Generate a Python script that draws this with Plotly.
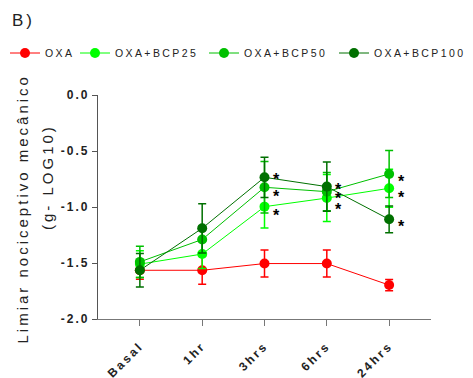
import plotly.graph_objects as go

# Time points and group means (log10 g) with SEM
timepoints = ["Basal", "1hr", "3hrs", "6hrs", "24hrs"]

series_names = ["OXA", "OXA+BCP25", "OXA+BCP50", "OXA+BCP100"]
series_colors = ["#ff0000", "#00ff00", "#00c000", "#007000"]

oxa_mean = [-1.565, -1.565, -1.505, -1.505, -1.697]
oxa_sem = [0.08, 0.125, 0.12, 0.12, 0.05]

bcp25_mean = [-1.51, -1.42, -0.997, -0.92, -0.833]
bcp25_sem = [0.12, 0.13, 0.19, 0.21, 0.17]

bcp50_mean = [-1.49, -1.29, -0.824, -0.863, -0.705]
bcp50_sem = [0.14, 0.12, 0.23, 0.17, 0.21]

bcp100_mean = [-1.565, -1.19, -0.735, -0.818, -1.11]
bcp100_sem = [0.15, 0.22, 0.18, 0.22, 0.12]

y_tickvals = [0.0, -0.5, -1.0, -1.5, -2.0]
y_ticktext = ["0.0", "-0.5", "-1.0", "-1.5", "-2.0"]

# significance marks: (series index, time point index, vertical nudge in px)
sig_marks = [
    (3, 2, 2), (2, 2, -5), (1, 2, -5),
    (3, 3, 1), (2, 3, -3), (1, 3, -7),
    (2, 4, -4), (1, 4, -5), (3, 4, -3),
]

means = [oxa_mean, bcp25_mean, bcp50_mean, bcp100_mean]
sems = [oxa_sem, bcp25_sem, bcp50_sem, bcp100_sem]

FONT = "Arial, 'Liberation Sans', sans-serif"
W, H = 473, 378
L, R, T, B = 98, 42, 95, 59
PW, PH = W - L - R, H - T - B

def px_to_paper_x(px):
    return (px - L) / PW

def px_to_paper_y(py):
    return (H - B - py) / PH

fig = go.Figure()
legend_ids = ["legend", "legend2", "legend3", "legend4"]
for i in range(4):
    fig.add_trace(go.Scatter(
        x=timepoints, y=means[i], name=series_names[i],
        mode="lines+markers",
        line=dict(color=series_colors[i], width=1),
        marker=dict(color=series_colors[i], size=10),
        error_y=dict(type="data", array=sems[i], color=series_colors[i],
                     thickness=1.5, width=4),
        legend=legend_ids[i], showlegend=True,
    ))

# asterisks beside the significant points
annotations = []
for s, t, dy in sig_marks:
    annotations.append(dict(
        x=timepoints[t], y=means[s][t], xref="x", yref="y",
        text="*", showarrow=False, xshift=12, yshift=dy - 4,
        xanchor="center", yanchor="middle",
        font=dict(family=FONT, size=16, color="black", weight="bold"),
    ))

# two-line y-axis title
annotations.append(dict(
    x=px_to_paper_x(22), y=px_to_paper_y(209), xref="paper", yref="paper",
    text="Limiar nociceptivo mecânico", textangle=-90, showarrow=False,
    xanchor="center", yanchor="middle",
    font=dict(family=FONT, size=15, color="#222"),
))
annotations.append(dict(
    x=px_to_paper_x(47), y=px_to_paper_y(177), xref="paper", yref="paper",
    text="(g- LOG10)", textangle=-90, showarrow=False,
    xanchor="center", yanchor="middle",
    font=dict(family=FONT, size=15, color="#222"),
))

legend_marker_px = [28, 98, 227, 357]
legend_entry_px = [66, 124, 124, 110]
legend_layout = {}
for lid, mx, ew in zip(legend_ids, legend_marker_px, legend_entry_px):
    legend_layout[lid] = dict(
        x=px_to_paper_x(mx - 23), y=px_to_paper_y(53),
        xanchor="left", yanchor="middle", orientation="h",
        bgcolor="rgba(0,0,0,0)", borderwidth=0, itemwidth=30,
        entrywidth=ew, entrywidthmode="pixels",
        font=dict(family=FONT, size=10.5, color="#222"),
        visible=True,
    )

fig.update_layout(
    width=W, height=H,
    margin=dict(l=L, r=R, t=T, b=B, pad=0, autoexpand=False),
    paper_bgcolor="white", plot_bgcolor="white",
    showlegend=True,
    title=dict(text="B)", xref="container", yref="container",
               x=12 / W, y=1 - 20 / H, xanchor="left", yanchor="middle",
               font=dict(family=FONT, size=17, color="#222")),
    annotations=annotations,
    **legend_layout,
)

fig.update_xaxes(
    type="category", categoryorder="array", categoryarray=timepoints,
    range=[-0.672, 4.672], showgrid=False, zeroline=False,
    showline=True, linecolor="#777", linewidth=1.3,
    ticks="outside", ticklen=6, tickcolor="#777", tickwidth=1.3,
    tickangle=-45, ticklabelstandoff=8,
    tickfont=dict(family=FONT, size=12, color="#222", weight="bold"),
)
fig.update_yaxes(
    range=[-2.0, 0.0], showgrid=False, zeroline=False,
    showline=True, linecolor="#555", linewidth=1.3,
    ticks="outside", ticklen=5, tickcolor="#555", tickwidth=1.3,
    tickvals=y_tickvals, ticktext=y_ticktext,
    tickfont=dict(family=FONT, size=12, color="#222", weight="bold"),
)

# widen the character tracking of the labels; let legend text run past
# the box plotly measured before the tracking was applied
tracking_js = """
var css = document.createElement('style');
css.textContent =
  '.legendtext,.legend2text,.legend3text,.legend4text{letter-spacing:2.4px !important;}' +
  '.ytick text{letter-spacing:2px !important;}' +
  '.xtick text{letter-spacing:2.5px !important;}' +
  '.gtitle{letter-spacing:3px !important;}';
document.head.appendChild(css);
var gd = document.getElementById('{plot_id}');
function track() {
  gd.querySelectorAll('.annotation-text').forEach(function (el) {
    if (el.textContent.length > 1) { el.style.letterSpacing = '3px'; }
  });
  gd.querySelectorAll('.scrollbox').forEach(function (el) {
    el.removeAttribute('clip-path');
  });
}
track();
gd.on('plotly_afterplot', track);
setTimeout(track, 100);
"""

fig.write_html("out.html", post_script=tracking_js)
